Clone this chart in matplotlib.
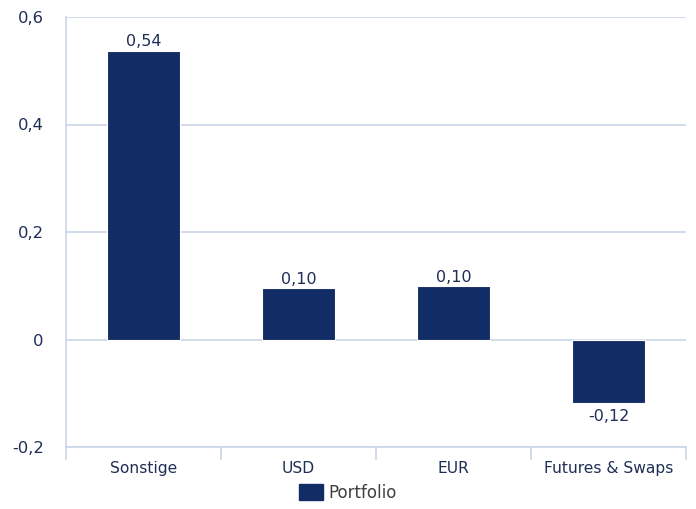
import matplotlib
matplotlib.use("Agg")
import matplotlib.pyplot as plt
from matplotlib.patches import Patch
import numpy as np

categories = ["Sonstige", "USD", "EUR", "Futures & Swaps"]
values = [0.537, 0.095, 0.099, -0.119]
labels = ["0,54", "0,10", "0,10", "-0,12"]
yticks = [-0.2, 0, 0.2, 0.4, 0.6]
yticklabels = ["-0,2", "0", "0,2", "0,4", "0,6"]
series_name = "Portfolio"

bar_color = "#122c66"
grid_color = "#c9d5e8"
text_color = "#1f2e55"

fig = plt.figure(figsize=(6.96, 5.09), dpi=100)
ax = fig.add_axes([66/696, 1-447/509, 620/696, 430/509])

x = np.arange(len(categories))
ax.bar(x, values, width=0.47, color=bar_color, edgecolor="white", linewidth=0.8, zorder=3)

ax.set_xlim(-0.5, len(categories) - 0.5)
ax.set_ylim(-0.2, 0.6)
ax.set_yticks(yticks)
ax.set_yticklabels(yticklabels)
ax.yaxis.grid(True, color=grid_color, linewidth=1.2, zorder=0)
ax.tick_params(axis="y", length=0, pad=16, labelsize=11.8, labelcolor=text_color)

ax.set_xticks(x)
ax.set_xticklabels(categories)
ax.tick_params(axis="x", which="major", length=0, pad=10, labelsize=11.2, labelcolor=text_color)
ax.set_xticks(np.arange(-0.5, len(categories)), minor=True)
ax.tick_params(axis="x", which="minor", length=9.5, width=1.2, color=grid_color, direction="out")

for s in ["top", "right"]:
    ax.spines[s].set_visible(False)
for s in ["left", "bottom"]:
    ax.spines[s].set_color(grid_color)
    ax.spines[s].set_linewidth(1.2)

for xi, v, lab in zip(x, values, labels):
    if v >= 0:
        ax.annotate(lab, (xi, v), xytext=(0, 1), textcoords="offset points",
                    ha="center", va="bottom", fontsize=11.5, color=text_color)
    else:
        ax.annotate(lab, (xi, v), xytext=(0, -4), textcoords="offset points",
                    ha="center", va="top", fontsize=11.5, color=text_color)

handle = Patch(facecolor=bar_color, edgecolor=bar_color)
fig.legend([handle], [series_name], loc="center", bbox_to_anchor=(348/696, 1-493/509),
           frameon=False, fontsize=12, labelcolor="#404040", handlelength=1.45,
           handleheight=1.1, handletextpad=0.35)

fig.savefig("out.png", dpi=100)
